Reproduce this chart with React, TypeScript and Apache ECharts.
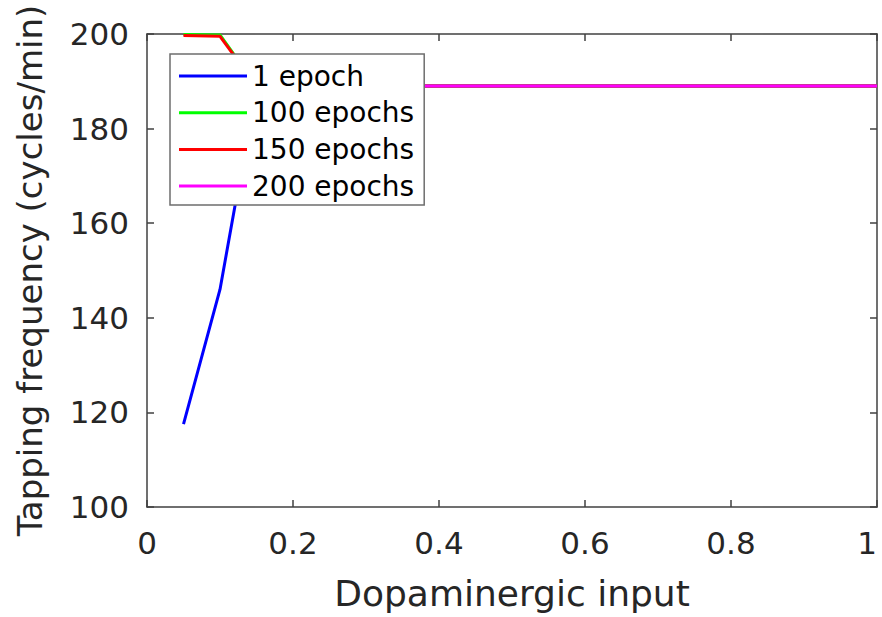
import React, { useEffect, useRef } from "react";
import * as echarts from "echarts";

const xValues = [0.05, 0.1, 0.15, 0.2, 0.25, 0.3, 0.35, 0.4, 0.45, 0.5, 0.55, 0.6, 0.65, 0.7, 0.75, 0.8, 0.85, 0.9, 0.95, 1.0];
const epoch1 = [117.5, 146, 189, 189, 189, 189, 189, 189, 189, 189, 189, 189, 189, 189, 189, 189, 189, 189, 189, 189];
const epoch100 = [199.9, 199.8, 189, 189, 189, 189, 189, 189, 189, 189, 189, 189, 189, 189, 189, 189, 189, 189, 189, 189];
const epoch150 = [199.7, 199.5, 189, 189, 189, 189, 189, 189, 189, 189, 189, 189, 189, 189, 189, 189, 189, 189, 189, 189];
const epoch200 = [null, null, 189, 189, 189, 189, 189, 189, 189, 189, 189, 189, 189, 189, 189, 189, 189, 189, 189, 189];
const seriesNames = ["1 epoch", "100 epochs", "150 epochs", "200 epochs"];
const seriesColors = ["#0000ff", "#00ff00", "#ff0000", "#ff00ff"];
const xTicks = [0, 0.2, 0.4, 0.6, 0.8, 1];
const yTicks = [100, 120, 140, 160, 180, 200];

const FONT = "DejaVu Sans";
const AXIS_COLOR = "#404040";
const TEXT_COLOR = "#262626";

export default function App() {
  const ref = useRef<HTMLDivElement>(null);
  useEffect(() => {
    if (!ref.current) return;
    const chart = echarts.init(ref.current, null, { renderer: "svg" });
    const all = [epoch1, epoch100, epoch150, epoch200];
    const axisLineStyle = { color: AXIS_COLOR, width: 1.5 };
    const xBase = {
      type: "value" as const,
      min: xTicks[0],
      max: xTicks[xTicks.length - 1],
      interval: xTicks[1] - xTicks[0],
      splitLine: { show: false },
      axisLine: { show: true, onZero: false, lineStyle: axisLineStyle },
      axisTick: { show: true, inside: true, length: 7, lineStyle: axisLineStyle },
    };
    const yBase = {
      type: "value" as const,
      min: yTicks[0],
      max: yTicks[yTicks.length - 1],
      interval: yTicks[1] - yTicks[0],
      splitLine: { show: false },
      axisLine: { show: true, onZero: false, lineStyle: axisLineStyle },
      axisTick: { show: true, inside: true, length: 7, lineStyle: axisLineStyle },
    };
    chart.setOption({
      animation: false,
      backgroundColor: "#ffffff",
      grid: { left: 147, right: 5, top: 34, bottom: 110, containLabel: false, outerBoundsMode: "none" },
      xAxis: [
        {
          ...xBase,
          position: "bottom",
          axisLabel: {
            fontSize: 31,
            fontFamily: FONT,
            color: TEXT_COLOR,
            margin: 20,
            alignMaxLabel: "right",
          },
          name: "Dopaminergic input",
          nameLocation: "middle",
          nameGap: 68,
          nameTextStyle: { fontSize: 36, fontFamily: FONT, color: TEXT_COLOR },
        },
        { ...xBase, position: "top", axisLabel: { show: false } },
      ],
      yAxis: [
        {
          ...yBase,
          position: "left",
          axisLabel: { fontSize: 31, fontFamily: FONT, color: TEXT_COLOR, margin: 18 },
          name: "Tapping frequency (cycles/min)",
          nameLocation: "middle",
          nameGap: 100,
          nameTextStyle: { fontSize: 34, fontFamily: FONT, color: TEXT_COLOR },
        },
        { ...yBase, position: "right", axisLabel: { show: false } },
      ],
      legend: {
        orient: "vertical",
        left: 170,
        top: 54,
        backgroundColor: "#ffffff",
        borderColor: "#6e6e6e",
        borderWidth: 1.5,
        padding: [8, 10, 5, 9],
        itemWidth: 68,
        itemHeight: 3,
        itemGap: 8.7,
        icon: "rect",
        textStyle: { fontSize: 28, fontFamily: FONT, color: "#000000" },
        data: seriesNames,
      },
      series: all.map((vals, i) => ({
        type: "line",
        name: seriesNames[i],
        xAxisIndex: 0,
        yAxisIndex: 0,
        showSymbol: false,
        symbol: "none",
        clip: false,
        color: seriesColors[i],
        lineStyle: { color: seriesColors[i], width: 3 },
        data: xValues
          .map((x, j) => [x, vals[j]])
          .filter((p) => p[1] !== null),
      })),
    });
    return () => chart.dispose();
  }, []);
  return (
    <div
      ref={ref}
      style={{ position: "fixed", left: 0, top: 0, width: 882, height: 617 }}
    />
  );
}
